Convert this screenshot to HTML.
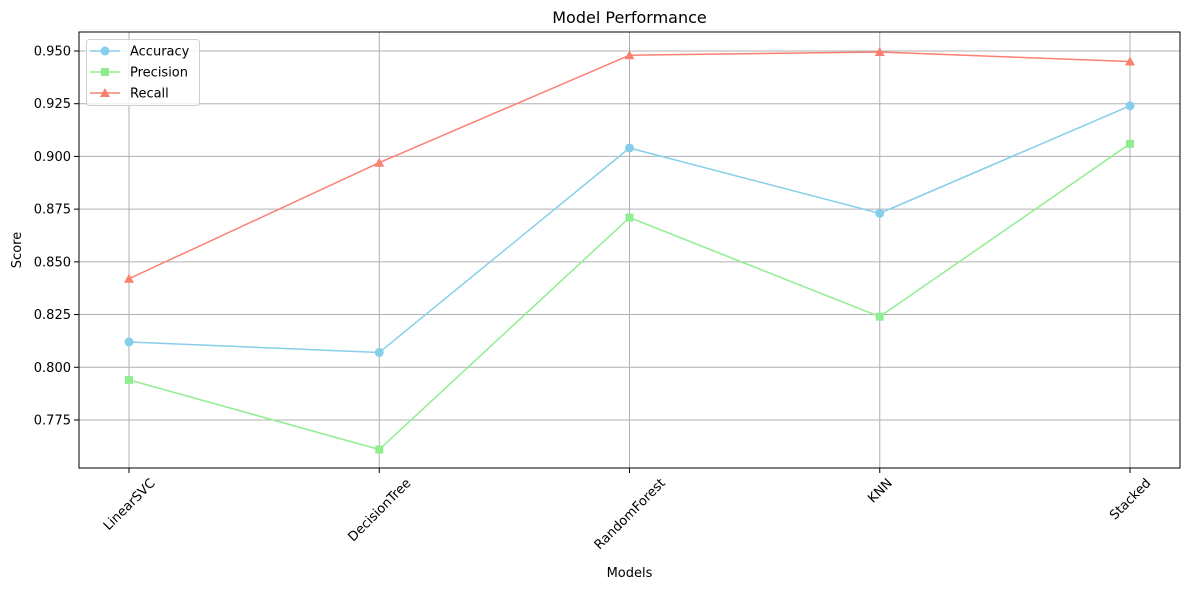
<!DOCTYPE html>
<html><head><meta charset="utf-8"><style>
html,body{margin:0;padding:0;background:#fff;}
svg{display:block;font-family:"DejaVu Sans","Liberation Sans",sans-serif;}
</style></head><body>
<svg id="chart" width="1189" height="590" viewBox="0 0 1189 590"></svg>
<script>
const categories = ["LinearSVC","DecisionTree","RandomForest","KNN","Stacked"];
const accuracy = [0.812, 0.807, 0.904, 0.873, 0.924];
const precision = [0.794, 0.761, 0.871, 0.824, 0.906];
const recall = [0.842, 0.897, 0.948, 0.9495, 0.945];
const yTicks = [0.775, 0.800, 0.825, 0.850, 0.875, 0.900, 0.925, 0.950];
const yTickLabels = ["0.775","0.800","0.825","0.850","0.875","0.900","0.925","0.950"];

const NS = "http://www.w3.org/2000/svg";
const svg = document.getElementById('chart');
const L = 79, R = 1180, T = 32, B = 468;
const x0 = 129, x1 = 1130;
function xs(i){ return x0 + i*(x1-x0)/(categories.length-1); }
function ys(v){ return 51 + (0.95 - v)/0.025*52.71; }
function mk(tag, attrs, parent){
  const e = document.createElementNS(NS, tag);
  for (const k in attrs) e.setAttribute(k, attrs[k]);
  (parent||svg).appendChild(e); return e;
}
let t = mk('text',{x:(L+R)/2,y:23,'text-anchor':'middle','font-size':16,fill:'#000'});
t.textContent = 'Model Performance';


const grid = mk('g',{});


categories.forEach((c,i)=>{
  mk('line',{x1:xs(i),x2:xs(i),y1:T,y2:B,stroke:'#b0b0b0','stroke-width':1},grid);
});
yTicks.forEach((v)=>{
  mk('line',{x1:L,x2:R,y1:ys(v),y2:ys(v),stroke:'#b0b0b0','stroke-width':1},grid);
});
const xAxis = mk('g',{});


categories.forEach((c,i)=>{
  const x = xs(i);
  mk('line',{x1:x,x2:x,y1:B,y2:B+5,stroke:'#000'},xAxis);
  const tx = mk('text',{x:0,y:4.5,'text-anchor':'middle','font-size':13,fill:'#000'},xAxis);
  tx.textContent = c;
  
  
  const w = tx.getComputedTextLength();
  const half = (w + 13) * 0.7071 / 2;
  tx.setAttribute('transform',`translate(${x},${B + 8 + half}) rotate(-45)`);
});
const yAxis = mk('g',{});


yTicks.forEach((v,i)=>{
  const y = ys(v);
  mk('line',{x1:L-5,x2:L,y1:y,y2:y,stroke:'#000'},yAxis);
  const tx = mk('text',{x:L-8,y:y+4.5,'text-anchor':'end','font-size':13,fill:'#000'},yAxis);
  tx.textContent = yTickLabels[i];
  
  
});
let xl = mk('text',{x:(L+R)/2,y:577,'text-anchor':'middle','font-size':13,fill:'#000'});
xl.textContent='Models';


let yl = mk('text',{x:0,y:0,'text-anchor':'middle','font-size':13,fill:'#000',transform:`translate(21,${(T+B)/2}) rotate(-90)`});
yl.textContent='Score';



function marker(g, kind, x, y, color){
  if (kind==='circle') mk('circle',{cx:x,cy:y,r:4.5,fill:color},g);
  else if (kind==='square') mk('rect',{x:x-4,y:y-4,width:8,height:8,fill:color},g);
  else mk('polygon',{points:`${x},${y-5} ${x-5},${y+4} ${x+5},${y+4}`,fill:color},g);
}
const series = [
  {name:'Accuracy',vals:accuracy,color:'#87ceeb',m:'circle'},
  {name:'Precision',vals:precision,color:'#90ee90',m:'square'},
  {name:'Recall',vals:recall,color:'#fa8072',m:'triangle'}
];
series.forEach(s=>{
  const g = mk('g',{});
  
  
  mk('polyline',{points:s.vals.map((v,i)=>xs(i)+','+ys(v)).join(' '),fill:'none',stroke:s.color,'stroke-width':1.5},g);
  s.vals.forEach((v,i)=>marker(g,s.m,xs(i),ys(v),s.color));
});
mk('rect',{x:L,y:T,width:R-L,height:B-T,fill:'none',stroke:'#000','stroke-width':1});
const lg = mk('g',{});


mk('rect',{x:86.5,y:39.5,width:113,height:66,rx:3,fill:'#fff','fill-opacity':0.8,stroke:'#d0d0d0'},lg);
series.forEach((s,i)=>{
  const y = 51 + i*21;
  const e = mk('g',{},lg);
  
  
  mk('line',{x1:90,x2:120,y1:y,y2:y,stroke:s.color,'stroke-width':1.5},e);
  marker(e,s.m,105,y,s.color);
  const tx = mk('text',{x:130,y:y+4.5,'font-size':13,fill:'#000'},e);
  tx.textContent = s.name;
});
</script>
</body></html>
